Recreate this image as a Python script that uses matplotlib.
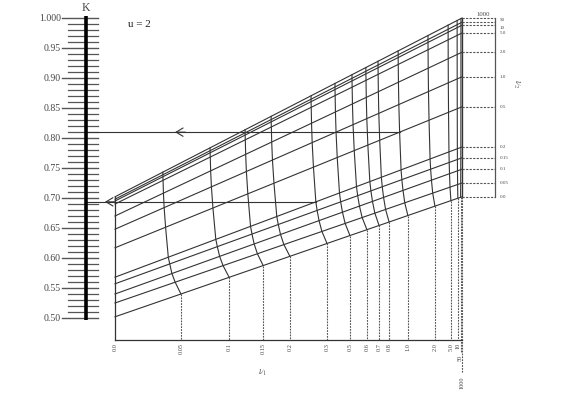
import numpy as np
import matplotlib
matplotlib.use("Agg")
import matplotlib.pyplot as plt

plt.rcParams["font.family"] = ["Liberation Serif", "DejaVu Serif"]
plt.rcParams["mathtext.fontset"] = "stix"

# ── data ─────────────────────────────────────────────────────────────────────
# v2 family: straight lines, K at v1 = 0 (left edge) and v1 = inf (right edge)
V2_LABELS = ["1000", "50", "10", "5.0", "2.0", "1.0", "0.5", "0.2", "0.15", "0.1", "0.05", "0.0"]
K_LEFT    = [0.702, 0.698, 0.695, 0.690, 0.670, 0.648, 0.617, 0.568, 0.557, 0.540, 0.525, 0.502]
K_RIGHT   = [1.000, 0.993, 0.988, 0.975, 0.943, 0.902, 0.852, 0.785, 0.767, 0.748, 0.725, 0.702]
# how far each v1 curve has bent at every v2 line (0 = top edge, 1 = bottom line)
BEND      = [0.0, 0.0, 0.0, 0.01, 0.03, 0.07, 0.15, 0.30, 0.38, 0.50, 0.68, 1.0]

# v1 family: abscissa on the top edge (v2 = 1000) and on the v2 = 0 line
V1_LABELS = ["0.0", "0.05", "0.1", "0.15", "0.2", "0.3", "0.5", "0.6", "0.7", "0.8",
             "1.0", "2.0", "5.0", "10", "50", "1000"]
S_TOP     = [0.0, 0.138, 0.274, 0.375, 0.450, 0.565, 0.634, 0.683, 0.723, 0.758,
             0.816, 0.902, 0.960, 0.986, 0.997, 1.0]
S_BOTTOM  = [0.0, 0.190, 0.329, 0.427, 0.504, 0.611, 0.677, 0.726, 0.761, 0.790,
             0.844, 0.922, 0.968, 0.988, 0.996, 1.0]

K_MAJOR = [1.00, 0.95, 0.90, 0.85, 0.80, 0.75, 0.70, 0.65, 0.60, 0.55, 0.50]
K_MAJOR_LABELS = ["1.000", "0.95", "0.90", "0.85", "0.80", "0.75", "0.70", "0.65", "0.60", "0.55", "0.50"]

# worked examples: (v1, v2) node -> K
ARROWS = [("1.0", "0.5"), ("0.3", "0.2")]

# ── layout ───────────────────────────────────────────────────────────────────
S_KAXIS = -0.085        # K scale position
BASE_K  = 0.4633        # baseline of the v1 scale
S_RSCALE = 1.095        # v2 scale on the right
INK = "#333333"
TXT = "#444444"


def v2_k(i, s):
    return K_LEFT[i] + (K_RIGHT[i] - K_LEFT[i]) * s


def node(j, i):
    s = S_TOP[j] + (S_BOTTOM[j] - S_TOP[j]) * BEND[i]
    return s, v2_k(i, s)


fig = plt.figure(figsize=(5.81, 4.01), dpi=100)
ax = fig.add_axes([0, 0, 1, 1])
ax.set_xlim(-115 / 347, 466 / 347)
ax.set_ylim(0.36167, 1.03)
ax.axis("off")

# K scale
ax.plot([S_KAXIS, S_KAXIS], [1.003, 0.497], color="black", lw=2.6, solid_capstyle="butt", zorder=3)
for k in np.arange(50, 101) / 100:
    major = any(abs(k - m) < 1e-9 for m in K_MAJOR)
    x0 = -0.1527 if major else -0.1354
    ax.plot([x0, -0.049], [k, k], color="#555555", lw=1.0 if major else 0.9, zorder=2)
for k, lab in zip(K_MAJOR, K_MAJOR_LABELS):
    ax.text(-0.1556, k, lab, ha="right", va="center", fontsize=7, color=TXT)
ax.text(S_KAXIS, 1.017, "K", ha="center", va="center", fontsize=8.5, color=TXT)
ax.text(0.07, 0.99, "u = 2", ha="center", va="center", fontsize=8, color="#222222")

# v2 lines
for i in range(len(V2_LABELS)):
    ax.plot([0, 1], [K_LEFT[i], K_RIGHT[i]], color=INK, lw=0.8)

# left and right edges
ax.plot([0, 0], [K_LEFT[0], BASE_K], color=INK, lw=0.9)
ax.plot([1, 1], [K_RIGHT[0], K_RIGHT[-1]], color=INK, lw=0.9)

# v1 curves
for j in range(1, len(V1_LABELS)):
    pts = [node(j, i) for i in range(len(V2_LABELS))]
    xs, ys = zip(*pts)
    ax.plot(xs, ys, color=INK, lw=0.8)

# dashed drops to the v1 scale
drop = [0.0] * 14 + [0.02, 0.055]
for j in range(1, len(V1_LABELS)):
    s, k = node(j, len(V2_LABELS) - 1)
    ax.plot([s, s], [k, BASE_K - drop[j]], color="#555555", lw=0.8, dashes=(1.6, 1.0))

ax.plot([0, 1], [BASE_K, BASE_K], color=INK, lw=0.9)
for j, lab in enumerate(V1_LABELS):
    s = S_BOTTOM[j]
    ax.text(s, BASE_K - 0.005 - drop[j], lab, rotation=90, ha="center", va="top",
            fontsize=4.5, color=TXT)
ax.text(0.424, 0.41, r"$\nu_1$", ha="center", va="center", fontsize=7, color="#666666")

# v2 scale on the right
nudge = {"50": 0.004, "10": -0.004}
for i, lab in enumerate(V2_LABELS):
    ax.plot([1, S_RSCALE], [K_RIGHT[i], K_RIGHT[i]], color="#555555", lw=0.8, dashes=(2.0, 1.2))
    if i == 0:
        ax.text(1.06, K_RIGHT[i] + 0.002, lab, ha="center", va="bottom", fontsize=4.8, color=TXT)
    else:
        ax.text(S_RSCALE + 0.014, K_RIGHT[i] + nudge.get(lab, 0), lab, ha="left", va="center",
                fontsize=3.6, color=TXT)
ax.plot([S_RSCALE, S_RSCALE], [K_RIGHT[0], K_RIGHT[-1]], color="#555555", lw=0.9)
ax.text(1.159, 0.89, r"$\nu_2$", rotation=-90, ha="center", va="center", fontsize=7, color="#666666")

# worked example arrows
heads = [0.173, -0.029]
for (a1, a2), hs in zip(ARROWS, heads):
    s, k = node(V1_LABELS.index(a1), V2_LABELS.index(a2))
    ax.plot([s, S_KAXIS], [k, k], color=INK, lw=0.8)
    ax.annotate("", xy=(hs, k), xytext=(hs + 0.03, k),
                arrowprops=dict(arrowstyle="->,head_length=0.5,head_width=0.3",
                                color=INK, lw=0.8, shrinkA=0, shrinkB=0))

plt.savefig("out.png", dpi=100, facecolor="white")
plt.close()
